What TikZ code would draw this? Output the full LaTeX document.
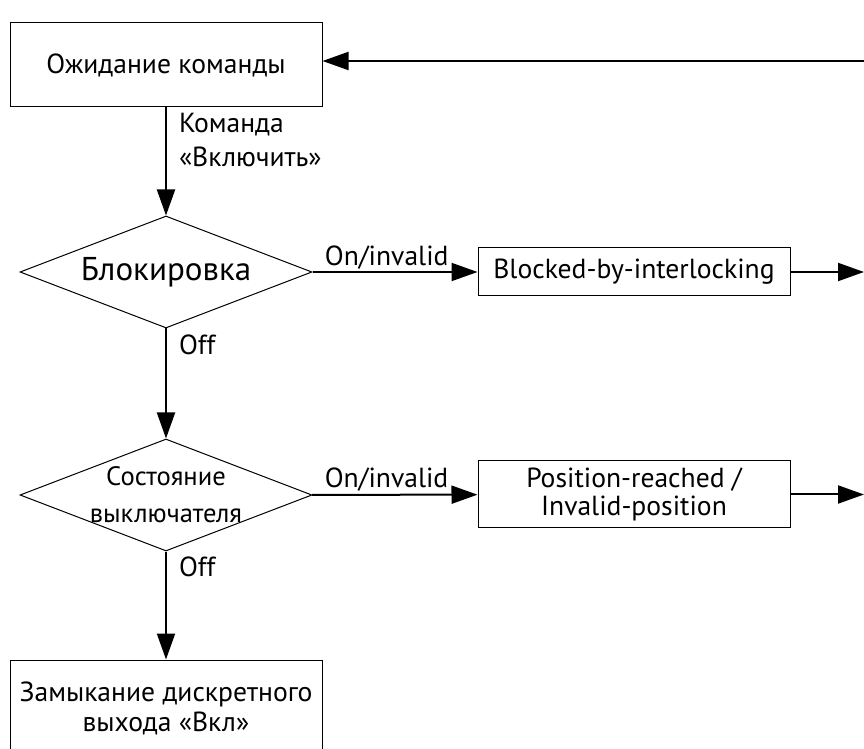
\documentclass[tikz,border=0pt]{standalone}
\usepackage{fontspec}
\setmainfont{PT Sans}
\usetikzlibrary{arrows.meta,shapes.geometric}

\begin{document}
\begin{tikzpicture}[x = 0.5pt, y = -0.5pt,
	 box/.style = {draw, line width = 0.5pt, minimum width = 156pt, align = center, inner sep = 2pt, font = \fontsize{13.8}{15}\selectfont},
	 decision/.style = {draw, diamond, line width = 0.5pt, minimum width = 146pt, minimum height = 56pt, inner sep = 0pt},
	 flow/.style = {line width = 1pt, -{Triangle[length = 13pt, width = 9pt]}},
	 lbl/.style = {font = \fontsize{13.8}{17}\selectfont, inner sep = 1pt},
	 side/.style = {lbl, right, align = left, xshift = 5pt}]
	 \useasboundingbox (0, 0) rectangle (864, 749);

	 \node[box, minimum height = 42pt] (wait) at (166, 65) {Ожидание команды};
	 \node[decision, label = {[font = \fontsize{16.5}{20}\selectfont]center:Блокировка}] (lock) at (166, 272) {};
	 \node[box, minimum height = 24pt] (blocked) at (634, 272) {Blocked-by-interlocking};
	 \node[decision, label = {[font = \fontsize{13.3}{18.5}\selectfont, align = center]center:Состояние\\выключателя}] (state) at (166, 495) {};
	 \node[box, minimum height = 33.5pt, font = \fontsize{13.8}{14}\selectfont] (reached) at (634, 494.5) {Position-reached /\\Invalid-position};
	 \node[box, minimum height = 48pt] (close) at (166, 708) {Замыкание дискретного\\выхода «Вкл»};

	 \coordinate (back) at (864, 61);
	 \coordinate (out1) at (864, 272);
	 \coordinate (out2) at (864, 494.5);

	 \draw[flow] (back) -- (back -| wait.east);
	 \draw[flow] (wait) -- node[side, pos = 0.3] {Команда\\«Включить»} (lock);
	 \draw[flow] (lock) -- node[lbl, above, pos = 0.45] {On/invalid} (blocked);
	 \draw[flow] (blocked) -- (out1);
	 \draw[flow] (lock) -- node[side, pos = 0.15] {Off} (state);
	 \draw[flow] (state) -- node[lbl, above, pos = 0.45] {On/invalid} (reached);
	 \draw[flow] (reached) -- (out2);
	 \draw[flow] (state) -- node[side, pos = 0.14] {Off} (close);
\end{tikzpicture}
\end{document}
